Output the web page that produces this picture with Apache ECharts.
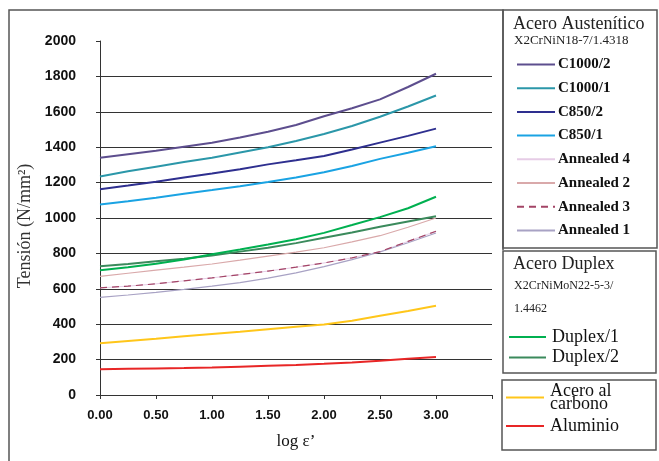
<!DOCTYPE html>
<html>
<head>
<meta charset="utf-8">
<script src="https://cdn.jsdelivr.net/npm/echarts@6/dist/echarts.min.js"></script>
<style>
  html, body { margin: 0; padding: 0; background: #fff; }
  #chart { width: 659px; height: 461px; }
</style>
</head>
<body>
<div id="chart"></div>
<script>
// log ε' sample points
var logStrain = [0, 0.25, 0.5, 0.75, 1.0, 1.25, 1.5, 1.75, 2.0, 2.25, 2.5, 2.75, 3.0];

// Acero austenítico
var c1000_2 = [1340, 1360, 1380, 1403, 1425, 1455, 1487, 1525, 1575, 1620, 1670, 1740, 1815];
var c1000_1 = [1235, 1264, 1290, 1316, 1340, 1370, 1400, 1435, 1475, 1520, 1572, 1630, 1692];
var c850_2 = [1163, 1183, 1205, 1229, 1251, 1276, 1303, 1326, 1350, 1387, 1426, 1464, 1505];
var c850_1 = [1076, 1095, 1115, 1137, 1158, 1180, 1203, 1229, 1259, 1294, 1334, 1369, 1405];
var annealed4 = [605, 615, 628, 645, 662, 680, 700, 722, 746, 775, 810, 868, 925];
var annealed2 = [670, 688, 705, 722, 740, 762, 785, 807, 832, 865, 900, 948, 1000];
var annealed3 = [605, 615, 628, 645, 662, 680, 700, 722, 746, 775, 810, 868, 925];
var annealed1 = [552, 565, 580, 597, 615, 635, 660, 690, 725, 765, 808, 860, 915];

// Acero duplex
var duplex1 = [705, 722, 742, 765, 795, 822, 850, 880, 916, 960, 1005, 1055, 1120];
var duplex2 = [727, 740, 755, 770, 788, 810, 832, 858, 888, 918, 950, 980, 1010];

// Otros
var carbono = [292, 305, 318, 332, 345, 358, 372, 385, 398, 420, 448, 475, 504];
var aluminio = [146, 148, 150, 152, 155, 160, 165, 170, 176, 184, 194, 205, 214];

var yTicks = [0, 200, 400, 600, 800, 1000, 1200, 1400, 1600, 1800, 2000];

var myChart = echarts.init(document.getElementById("chart"));

function pts(vals) {
  return logStrain.map(function (x, i) { return [x, vals[i]]; });
}

function line(name, vals, color, width, type, z) {
  return {
    name: name,
    type: "line",
    data: pts(vals),
    symbol: "none",
    z: z || 2,
    lineStyle: { color: color, width: width, type: type || "solid" },
    itemStyle: { color: color },
  };
}

var serif = "Liberation Serif";
var boxStyle = { fill: "none", stroke: "#555", lineWidth: 1.5 };

var option = {
  animation: false,
  backgroundColor: "#fff",
  grid: { left: 100, top: 41, right: 167, bottom: 66 },
  xAxis: {
    type: "value",
    min: 0,
    max: 3.5,
    interval: 0.5,
    name: "log ε’",
    nameLocation: "middle",
    nameGap: 38,
    nameTextStyle: { fontFamily: serif, fontSize: 17, color: "#111" },
    axisLine: { lineStyle: { color: "#333", width: 1 } },
    axisTick: { show: true, length: 4, lineStyle: { color: "#333" } },
    axisLabel: {
      margin: 14,
      fontFamily: "Liberation Sans",
      fontWeight: "bold",
      fontSize: 13,
      color: "#111",
      formatter: function (v) { return v === 3.5 ? "" : v.toFixed(2); },
    },
    splitLine: { show: false },
  },
  yAxis: {
    type: "value",
    min: 0,
    max: 2000,
    interval: 200,
    name: "Tensión (N/mm²)",
    nameLocation: "middle",
    nameGap: 59,
    nameTextStyle: { fontFamily: serif, fontSize: 18, color: "#333", padding: [0, 16, 0, 0] },
    axisLine: { show: true, lineStyle: { color: "#333", width: 1 } },
    axisTick: { show: true, length: 4, lineStyle: { color: "#333" } },
    axisLabel: {
      margin: 24,
      fontFamily: "Liberation Sans",
      fontWeight: "bold",
      fontSize: 14,
      color: "#111",
      formatter: function (v) { return String(v); },
    },
    splitLine: {
      show: true,
      lineStyle: {
        width: 1,
        color: yTicks.map(function (t) { return t === 2000 ? "rgba(0,0,0,0)" : "#333"; }),
      },
    },
  },
  legend: [
    {
      left: 516,
      top: 57,
      padding: 0,
      orient: "vertical",
      itemWidth: 38,
      itemHeight: 14,
      itemGap: 8.7,
      itemStyle: { opacity: 0 },
      data: ["C1000/2", "C1000/1", "C850/2", "C850/1", "Annealed 4", "Annealed 2", "Annealed 3", "Annealed 1"],
      textStyle: { fontFamily: serif, fontWeight: "bold", fontSize: 15, color: "#111", padding: [0, 0, 0, -2] },
    },
    {
      left: 508,
      top: 328,
      padding: 0,
      orient: "vertical",
      itemWidth: 37,
      itemHeight: 14,
      itemGap: 2.6,
      itemStyle: { opacity: 0 },
      data: ["Duplex/1", "Duplex/2"],
      textStyle: { fontFamily: serif, fontSize: 18, color: "#111", padding: [0, 0, 0, 1] },
    },
    {
      left: 505,
      top: 382,
      padding: 0,
      orient: "vertical",
      itemWidth: 38,
      itemHeight: 14,
      itemGap: 4,
      itemStyle: { opacity: 0 },
      data: ["Acero al\ncarbono", "Aluminio"],
      textStyle: { fontFamily: serif, fontSize: 18, color: "#111", lineHeight: 13, padding: [0, 0, 0, 1] },
    },
  ],
  graphic: [
    // marco exterior
    { type: "polyline", shape: { points: [[9, 461], [9, 10], [503, 10], [503, 250]] }, style: boxStyle, silent: true },
    { type: "rect", shape: { x: 503, y: 10, width: 154, height: 238 }, style: boxStyle, silent: true },
    { type: "rect", shape: { x: 503, y: 251, width: 153, height: 122 }, style: boxStyle, silent: true },
    { type: "rect", shape: { x: 502, y: 380, width: 154, height: 70 }, style: boxStyle, silent: true },
    { type: "text", left: 513, top: 15, style: { text: "Acero Austenítico", font: "18px " + serif, fill: "#222" } },
    { type: "text", left: 514, top: 34, style: { text: "X2CrNiN18-7/1.4318", font: "13px " + serif, fill: "#222" } },
    { type: "text", left: 513, top: 255, style: { text: "Acero Duplex", font: "18px " + serif, fill: "#222" } },
    { type: "text", left: 514, top: 280, style: { text: "X2CrNiMoN22-5-3/", font: "12px " + serif, fill: "#222" } },
    { type: "text", left: 514, top: 303, style: { text: "1.4462", font: "12px " + serif, fill: "#222" } },
  ],
  series: [
    line("Annealed 4", annealed4, "#e6cce6", 1, "solid", 1),
    line("Annealed 1", annealed1, "#a8a2c4", 1.2),
    line("Annealed 3", annealed3, "#a34466", 1.2, [7, 5]),
    line("Annealed 2", annealed2, "#d9a9aa", 1.2),
    line("Duplex/2", duplex2, "#3b8a5c", 2),
    line("Duplex/1", duplex1, "#00b050", 2),
    line("Acero al\ncarbono", carbono, "#ffc61a", 2),
    line("Aluminio", aluminio, "#e82626", 2),
    line("C850/1", c850_1, "#1aa3e3", 2),
    line("C850/2", c850_2, "#2e2f8f", 2),
    line("C1000/1", c1000_1, "#2b97a9", 2),
    line("C1000/2", c1000_2, "#5d4e8e", 2),
  ],
};

option && myChart.setOption(option);
</script>
</body>
</html>
